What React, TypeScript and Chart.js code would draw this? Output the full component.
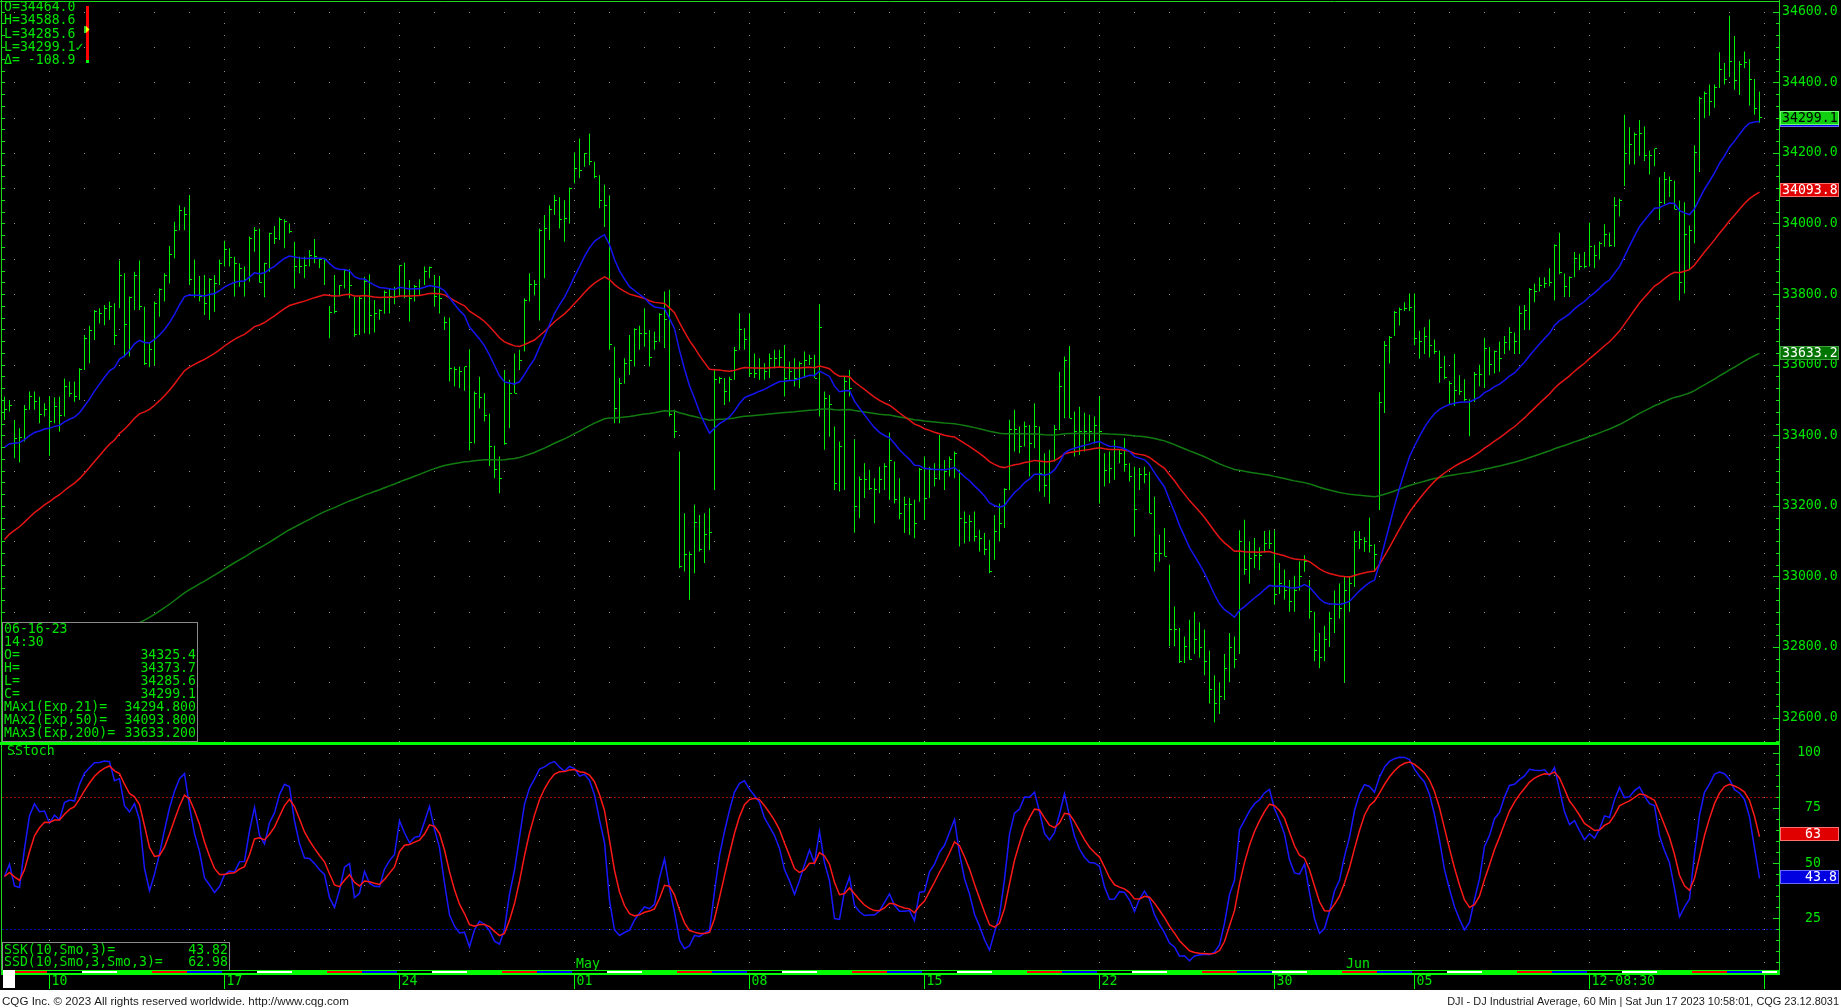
import React, { useEffect, useRef } from 'react';
import { Chart, registerables } from 'chart.js';
Chart.register(...registerables);

// ---------------- DATA ----------------
const sessionDates = [
  '2023-04-05', '2023-04-06', '2023-04-10', '2023-04-11', '2023-04-12', '2023-04-13', '2023-04-14',
  '2023-04-17', '2023-04-18', '2023-04-19', '2023-04-20', '2023-04-21', '2023-04-24', '2023-04-25',
  '2023-04-26', '2023-04-27', '2023-04-28', '2023-05-01', '2023-05-02', '2023-05-03', '2023-05-04',
  '2023-05-05', '2023-05-08', '2023-05-09', '2023-05-10', '2023-05-11', '2023-05-12', '2023-05-15',
  '2023-05-16', '2023-05-17', '2023-05-18', '2023-05-19', '2023-05-22', '2023-05-23', '2023-05-24',
  '2023-05-25', '2023-05-26', '2023-05-30', '2023-05-31', '2023-06-01', '2023-06-02', '2023-06-05',
  '2023-06-06', '2023-06-07', '2023-06-08', '2023-06-09', '2023-06-12', '2023-06-13', '2023-06-14',
  '2023-06-15', '2023-06-16', '2023-06-20',
];
const weekTickLabels = ['10', '17', '24', '01', '08', '15', '22', '30', '05', '12-08:30'];
const monthLabels = ['May', 'Jun'];

const highs = [
  33509, 33500, 33443, 33420, 33486, 33524, 33524, 33509, 33491, 33511,
  33508, 33509, 33561, 33552, 33552, 33590, 33684, 33710, 33755, 33760,
  33769, 33779, 33774, 33895, 33859, 33793, 33863, 33895, 33764, 33661,
  33779, 33816, 33859, 33936, 34005, 34052, 34046, 34081, 33898, 33851,
  33854, 33845, 33854, 33898, 33951, 33930, 33906, 33887, 33878, 33963,
  33989, 33986, 33889, 33974, 33993, 34017, 34012, 34000, 33948, 33906,
  33906, 33925, 33956, 33901, 33898, 33766, 33854, 33826, 33870, 33870,
  33793, 33793, 33849, 33856, 33783, 33757, 33810, 33816, 33821, 33882,
  33889, 33840, 33826, 33842, 33878, 33878, 33854, 33851, 33736, 33734,
  33594, 33594, 33594, 33644, 33524, 33566, 33519, 33462, 33370, 33340,
  33585, 33557, 33632, 33642, 33788, 33859, 33840, 33986, 34024, 34052,
  34081, 34074, 34066, 34102, 34201, 34241, 34200, 34255, 34175, 34137,
  34110, 34080, 33651, 33562, 33618, 33684, 33703, 33710, 33760, 33698,
  33694, 33746, 33807, 33812, 33472, 33354, 33179, 33071, 33203, 33174,
  33179, 33193, 33585, 33566, 33562, 33566, 33651, 33746, 33703, 33746,
  33632, 33618, 33604, 33632, 33642, 33642, 33656, 33609, 33618, 33609,
  33637, 33628, 33628, 33772, 33524, 33514, 33425, 33382, 33566, 33585,
  33389, 33283, 33321, 33302, 33278, 33311, 33321, 33408, 33326, 33278,
  33226, 33222, 33217, 33307, 33340, 33311, 33321, 33401, 33330, 33340,
  33354, 33302, 33184, 33174, 33184, 33132, 33123, 33104, 33174, 33207,
  33250, 33444, 33472, 33425, 33439, 33429, 33491, 33425, 33349, 33359,
  33429, 33580, 33623, 33653, 33467, 33481, 33464, 33458, 33453, 33511,
  33349, 33354, 33387, 33359, 33392, 33321, 33311, 33307, 33311, 33297,
  33226, 33118, 33137, 33033, 32915, 32854, 32830, 32877, 32900, 32870,
  32850, 32790, 32720, 32700, 32780, 32840, 32830, 33131, 33161, 33100,
  33109, 33083, 33129, 33131, 33131, 33038, 33020, 32990, 33002, 33043,
  33060, 32990, 32900, 32840, 32860, 32900, 32960, 32980, 33000, 33000,
  33129, 33129, 33111, 33167, 33091, 33522, 33667, 33681, 33752, 33762,
  33777, 33802, 33802, 33696, 33706, 33728, 33671, 33640, 33625, 33554,
  33630, 33570, 33559, 33502, 33579, 33600, 33676, 33650, 33640, 33666,
  33681, 33706, 33691, 33767, 33769, 33817, 33830, 33848, 33848, 33873,
  33941, 33974, 33858, 33850, 33919, 33914, 33919, 34002, 33939, 33949,
  33998, 33974, 34075, 34070, 34308, 34273, 34258, 34293, 34275, 34207,
  34212, 34131, 34146, 34133, 34121, 34065, 34060, 33994, 34222, 34359,
  34374, 34394, 34394, 34485, 34455, 34588.6, 34531, 34460, 34487, 34465,
  34409, 34373.7,
];
const lows = [
  33443, 33467, 33335, 33323, 33382, 33472, 33472, 33434, 33453, 33342,
  33434, 33410, 33453, 33509, 33495, 33500, 33585, 33604, 33670, 33717,
  33712, 33727, 33656, 33760, 33621, 33623, 33755, 33755, 33599, 33593,
  33599, 33736, 33779, 33830, 33901, 33981, 33981, 33826, 33790, 33779,
  33741, 33727, 33750, 33826, 33878, 33878, 33793, 33821, 33793, 33835,
  33920, 33832, 33791, 33863, 33942, 33953, 33930, 33972, 33816, 33859,
  33845, 33878, 33887, 33873, 33826, 33675, 33745, 33793, 33816, 33788,
  33679, 33684, 33689, 33686, 33691, 33727, 33744, 33745, 33771, 33793,
  33788, 33722, 33779, 33797, 33826, 33845, 33764, 33745, 33698, 33552,
  33538, 33533, 33526, 33357, 33377, 33476, 33439, 33313, 33278, 33236,
  33373, 33420, 33519, 33585, 33637, 33779, 33797, 33725, 33845, 33953,
  34024, 33986, 33948, 34000, 34114, 34128, 34161, 34165, 34128, 34043,
  33990, 33642, 33434, 33434, 33547, 33571, 33595, 33642, 33651, 33595,
  33642, 33665, 33647, 33453, 33392, 33023, 33014, 32934, 33009, 33071,
  33038, 33075, 33245, 33547, 33486, 33495, 33557, 33642, 33642, 33566,
  33562, 33557, 33557, 33562, 33590, 33595, 33510, 33557, 33538, 33533,
  33562, 33599, 33562, 33453, 33359, 33396, 33245, 33241, 33245, 33510,
  33124, 33165, 33222, 33245, 33151, 33236, 33245, 33217, 33207, 33162,
  33123, 33118, 33108, 33212, 33160, 33222, 33255, 33274, 33245, 33283,
  33278, 33085, 33094, 33099, 33099, 33071, 33061, 33009, 33047, 33099,
  33137, 33245, 33354, 33349, 33368, 33283, 33363, 33241, 33226, 33207,
  33326, 33415, 33448, 33448, 33340, 33344, 33354, 33382, 33377, 33207,
  33255, 33264, 33274, 33321, 33297, 33269, 33113, 33245, 33264, 33179,
  33014, 33042, 33057, 32802, 32802, 32755, 32755, 32764, 32780, 32770,
  32720, 32640, 32586, 32610, 32650, 32700, 32740, 32780, 33005, 32980,
  33023, 33018, 33068, 33078, 32920, 32950, 32935, 32900, 32900, 32960,
  33013, 32880, 32760, 32740, 32760, 32800, 32840, 32880, 32700, 32900,
  32970, 33078, 33070, 33068, 33013, 33188, 33463, 33603, 33681, 33711,
  33752, 33752, 33655, 33617, 33630, 33620, 33630, 33549, 33559, 33488,
  33483, 33514, 33496, 33397, 33494, 33539, 33534, 33570, 33575, 33580,
  33630, 33640, 33630, 33630, 33698, 33698, 33777, 33807, 33817, 33822,
  33782, 33856, 33792, 33792, 33848, 33868, 33873, 33878, 33873, 33898,
  33934, 33934, 33934, 34020, 34106, 34167, 34167, 34192, 34177, 34139,
  34162, 34010, 34055, 34075, 34040, 33782, 33802, 33868, 33944, 34146,
  34298, 34305, 34328, 34384, 34394, 34415, 34379, 34364, 34440, 34334,
  34308, 34285.6,
];
const closes = [
  33472, 33483, 33391, 33394, 33474, 33511, 33495, 33458, 33472, 33439,
  33481, 33455, 33538, 33519, 33511, 33587, 33675, 33698, 33750, 33745,
  33760, 33764, 33684, 33854, 33715, 33791, 33854, 33764, 33604, 33644,
  33774, 33813, 33854, 33911, 33981, 34038, 34026, 33840, 33795, 33793,
  33774, 33842, 33830, 33887, 33925, 33904, 33887, 33873, 33842, 33958,
  33981, 33832, 33887, 33972, 33958, 34010, 34005, 33977, 33878, 33878,
  33880, 33908, 33906, 33898, 33897, 33747, 33750, 33824, 33868, 33824,
  33686, 33788, 33835, 33738, 33745, 33753, 33804, 33793, 33793, 33880,
  33793, 33788, 33821, 33816, 33863, 33875, 33793, 33788, 33720, 33590,
  33587, 33580, 33594, 33379, 33519, 33508, 33455, 33368, 33302, 33278,
  33377, 33519, 33519, 33611, 33783, 33826, 33826, 33981, 33986, 34040,
  34066, 34010, 34015, 34099, 34156, 34151, 34199, 34175, 34133, 34066,
  34051, 33656, 33477, 33547, 33604, 33611, 33700, 33687, 33687, 33621,
  33665, 33741, 33727, 33458, 33410, 33028, 33061, 33061, 33153, 33075,
  33118, 33125, 33559, 33562, 33524, 33559, 33640, 33700, 33672, 33574,
  33576, 33590, 33580, 33618, 33618, 33621, 33562, 33580, 33562, 33604,
  33613, 33618, 33562, 33706, 33505, 33486, 33264, 33368, 33552, 33533,
  33198, 33274, 33274, 33250, 33245, 33274, 33311, 33328, 33217, 33179,
  33203, 33203, 33149, 33302, 33222, 33302, 33278, 33302, 33297, 33330,
  33347, 33165, 33153, 33156, 33113, 33108, 33075, 33014, 33127, 33151,
  33245, 33415, 33415, 33368, 33425, 33377, 33425, 33292, 33259, 33326,
  33415, 33538, 33613, 33448, 33410, 33410, 33410, 33410, 33429, 33410,
  33300, 33307, 33359, 33349, 33316, 33283, 33189, 33288, 33288, 33179,
  33066, 33066, 33057, 32849, 32849, 32759, 32802, 32764, 32820, 32800,
  32760, 32680, 32640, 32660, 32740, 32800, 32765, 33100, 33020, 33050,
  33060, 33058, 33094, 33093, 32950, 32980, 32960, 32930, 32960, 33000,
  33042, 32900, 32790, 32770, 32820, 32880, 32920, 32908, 32960, 32980,
  33100, 33104, 33100, 33089, 33061, 33492, 33655, 33678, 33749, 33757,
  33759, 33762, 33675, 33666, 33681, 33655, 33637, 33593, 33563, 33546,
  33526, 33524, 33500, 33495, 33572, 33573, 33647, 33600, 33637, 33617,
  33663, 33690, 33665, 33746, 33754, 33812, 33807, 33825, 33829, 33834,
  33939, 33860, 33822, 33848, 33900, 33878, 33877, 33934, 33908, 33944,
  33969, 33937, 34050, 34066, 34197, 34224, 34252, 34254, 34194, 34194,
  34212, 34060, 34126, 34121, 34040, 33832, 33969, 33979, 34202, 34354,
  34369, 34346, 34384, 34435, 34408, 34460, 34404, 34450, 34455, 34409,
  34325.4, 34299.1,
];

// moving averages: periods and their values just before the first visible bar
const emaPeriods = [21, 50, 200];
const emaSeeds = [33355, 33090, 32630];
const emaShown = [34294.8, 34093.8, 33633.2];

const priceTicks = [34600, 34400, 34200, 34000, 33800, 33600, 33400, 33200, 33000, 32800, 32600];
const stochTicks = [100, 75, 50, 25];
const stochShown = [43.82, 62.98];
const stochShownText = ['43.8', '63'];

const headerLabels = ['O=', 'H=', 'L=', 'L=', '\u0394='];
const headerValues = ['34464.0', '34588.6', '34285.6', '34299.1\u2713', ' -108.9'];
const infoDate = '06-16-23';
const infoTime = '14:30';
const infoLabels = ['O=', 'H=', 'L=', 'C=', 'MAx1(Exp,21)=', 'MAx2(Exp,50)=', 'MAx3(Exp,200)='];
const infoValues = ['34325.4', '34373.7', '34285.6', '34299.1', '34294.800', '34093.800', '33633.200'];
const stochInfoLabels = ['SSK(10,Smo,3)=', 'SSD(10,Smo,3,Smo,3)='];
const stochInfoValues = ['43.82', '62.98'];
const footerLeft = 'CQG Inc. \u00a9 2023 All rights reserved worldwide. http://www.cqg.com';
const footerRight = 'DJI - DJ Industrial Average, 60 Min | Sat Jun 17 2023 10:58:01, CQG 23.12.8031';

// ---------------- LAYOUT / STYLE ----------------
const W = 1841;
const H = 1008;
const MAIN_H = 742;
const ST_H = H - MAIN_H;
const PLOT_R = 1779;
const BAR_GREEN = '#00f000';
const TEXT_GREEN = '#00e400';
const FRAME_GREEN = '#18dc18';
const SEP_GREEN = '#00ff00';
const DOT = '#8e8e8e';
const MONO = "13.2px 'DejaVu Sans Mono', monospace";
const BARS_PER_SESSION = 7;
const FIRST_SESSION_BAR = -5;

const sessionStart = (k: number) => FIRST_SESSION_BAR + BARS_PER_SESSION * k;
const weekdays = sessionDates.map((d) => new Date(d + 'T12:00:00Z').getUTCDay());
const months = sessionDates.map((d) => d.slice(5, 7));
const weekStarts = sessionDates.map((_, k) => k).filter((k) => k > 0 && weekdays[k] < weekdays[k - 1]);
const monthStarts = sessionDates.map((_, k) => k).filter((k) => k > 0 && months[k] !== months[k - 1]);
const weekSet = new Set(weekStarts);
const dayColors: Record<number, string> = { 1: '#000000', 2: '#ffffff', 3: SEP_GREEN, 4: '#ff0000', 5: '#0000ff' };

function ema(vals: number[], period: number, seed: number) {
  const a = 2 / (period + 1);
  let e = seed;
  return vals.map((v) => (e = e + a * (v - e)));
}

function smoothedStoch(h: number[], l: number[], c: number[], n: number, s: number) {
  const k: number[] = [];
  const d: number[] = [];
  let sn = NaN, sd = NaN, sk = NaN;
  for (let i = 0; i < c.length; i++) {
    let hh = -Infinity, ll = Infinity;
    for (let j = Math.max(0, i - n + 1); j <= i; j++) {
      hh = Math.max(hh, h[j]);
      ll = Math.min(ll, l[j]);
    }
    const num = c[i] - ll;
    const den = hh - ll;
    sn = isNaN(sn) ? num : (sn * (s - 1) + num) / s;
    sd = isNaN(sd) ? den : (sd * (s - 1) + den) / s;
    const kv = sd > 0 ? (100 * sn) / sd : 50;
    sk = isNaN(sk) ? kv : (sk * (s - 1) + kv) / s;
    k.push(kv);
    d.push(sk);
  }
  return { k, d };
}

function txt(ctx: CanvasRenderingContext2D, s: string, x: number, y: number, color: string, align: CanvasTextAlign = 'left', font = MONO) {
  ctx.font = font;
  ctx.fillStyle = color;
  ctx.textAlign = align;
  ctx.textBaseline = 'middle';
  ctx.fillText(s, x, y);
}

function hline(ctx: CanvasRenderingContext2D, x0: number, x1: number, y: number) {
  ctx.beginPath();
  ctx.moveTo(x0, y);
  ctx.lineTo(x1, y);
  ctx.stroke();
}
function vline(ctx: CanvasRenderingContext2D, x: number, y0: number, y1: number) {
  ctx.beginPath();
  ctx.moveTo(x, y0);
  ctx.lineTo(x, y1);
  ctx.stroke();
}

function valueBox(ctx: CanvasRenderingContext2D, yc: number, fill: string, border: string) {
  const top = Math.round(yc - 7);
  ctx.fillStyle = fill;
  ctx.fillRect(PLOT_R + 1, top, 59, 14);
  ctx.strokeStyle = border;
  ctx.lineWidth = 1;
  ctx.strokeRect(PLOT_R + 1.5, top + 0.5, 58, 13);
}

const emas = emaPeriods.map((p, j) => ema(closes, p, emaSeeds[j]));
const stoch = smoothedStoch(highs, lows, closes, 10, 3);
const idx = closes.map((_, i) => i);

const X_MIN = -0.5;
const X_MAX = X_MIN + (PLOT_R - 2) / 5;

// ---------------- MAIN PANEL PLUGIN ----------------
const mainPlugin = {
  id: 'cqgMain',
  beforeDatasetsDraw(chart: any) {
    const { ctx, chartArea: a, scales } = chart;
    const xs = scales.x, ys = scales.y;
    ctx.save();
    ctx.fillStyle = DOT;
    for (let k = 1; k < sessionDates.length; k++) {
      const px = Math.floor(xs.getPixelForValue(sessionStart(k)));
      if (px < a.left || px > a.right) continue;
      const step = weekSet.has(k) ? 100 / 3 : 100;
      for (let n = Math.ceil(ys.min / step); n * step <= ys.max; n++) {
        ctx.fillRect(px, Math.round(ys.getPixelForValue(n * step)), 1, 1);
      }
    }
    ctx.restore();
  },
  afterDatasetDraw(chart: any, args: any) {
    if (args.index !== 0) return;
    const { ctx, chartArea: a, scales } = chart;
    const xs = scales.x, ys = scales.y;
    ctx.save();
    ctx.beginPath();
    ctx.rect(a.left, a.top, a.right - a.left, a.bottom - a.top);
    ctx.clip();
    ctx.fillStyle = BAR_GREEN;
    closes.forEach((c, i) => {
      const px = Math.floor(xs.getPixelForValue(i));
      const py = Math.floor(ys.getPixelForValue(c));
      ctx.fillRect(px + 1, py, 2, 1);
    });
    ctx.restore();
  },
  afterDraw(chart: any) {
    const { ctx, scales } = chart;
    const ys = scales.y;
    ctx.save();
    ctx.lineWidth = 1;
    ctx.strokeStyle = FRAME_GREEN;
    hline(ctx, 0, PLOT_R + 0.5, 1.5);
    vline(ctx, 1.5, 0, MAIN_H);
    vline(ctx, PLOT_R + 0.5, 0, MAIN_H);

    // axis ticks (right and left edges)
    const minor = 200 / 6;
    for (let n = Math.ceil((34600 - ys.max) / minor); 34600 - n * minor >= ys.min; n++) {
      const p = 34600 - n * minor;
      const y = Math.round(ys.getPixelForValue(p)) + 0.5;
      const len = n % 6 === 0 ? 6 : 3;
      hline(ctx, PLOT_R - len, PLOT_R, y);
      hline(ctx, 2, 5, y);
    }
    priceTicks.forEach((p) => txt(ctx, p.toFixed(1), 1782, ys.getPixelForValue(p), TEXT_GREEN));

    // value boxes
    valueBox(ctx, ys.getPixelForValue(emaShown[0]) + 0.5, '#0000e0', '#6a6aff');
    valueBox(ctx, ys.getPixelForValue(closes[closes.length - 1]), '#10d010', '#70ff70');
    txt(ctx, closes[closes.length - 1].toFixed(1), 1782, ys.getPixelForValue(closes[closes.length - 1]) + 0.5, '#000000');
    valueBox(ctx, ys.getPixelForValue(emaShown[1]), '#e00000', '#ff7070');
    txt(ctx, emaShown[1].toFixed(1), 1782, ys.getPixelForValue(emaShown[1]) + 0.5, '#ffffff');
    valueBox(ctx, ys.getPixelForValue(emaShown[2]), '#007400', '#40a040');
    txt(ctx, emaShown[2].toFixed(1), 1782, ys.getPixelForValue(emaShown[2]) + 0.5, '#ffffff');

    // info box (bottom-left)
    ctx.fillStyle = '#000000';
    ctx.fillRect(2, 622, 196, 120);
    ctx.strokeStyle = '#8a8a8a';
    ctx.strokeRect(2.5, 622.5, 195, 119);
    const lineY = (k: number) => 630 + 12.9 * k;
    txt(ctx, infoDate, 4, lineY(0), TEXT_GREEN);
    txt(ctx, infoTime, 4, lineY(1), TEXT_GREEN);
    infoLabels.forEach((l, k) => {
      txt(ctx, l, 4, lineY(k + 2), TEXT_GREEN);
      txt(ctx, infoValues[k], 196, lineY(k + 2), TEXT_GREEN, 'right');
    });

    // header (top-left)
    headerLabels.forEach((l, k) => txt(ctx, l + headerValues[k], 4, 7.7 + 13.25 * k, TEXT_GREEN));
    ctx.fillStyle = '#ff0000';
    ctx.fillRect(86, 6, 3, 57);
    ctx.fillStyle = '#00ff00';
    ctx.fillRect(86, 60, 3, 3);
    ctx.fillStyle = '#30d030';
    ctx.fillRect(84, 26, 2, 7);
    ctx.fillStyle = '#ffff00';
    ctx.beginPath();
    ctx.moveTo(86, 26);
    ctx.lineTo(89.5, 29.5);
    ctx.lineTo(86, 33);
    ctx.closePath();
    ctx.fill();
    ctx.restore();
  },
};

// ---------------- STOCHASTIC PANEL PLUGIN ----------------
const stochPlugin = {
  id: 'cqgStoch',
  beforeDatasetsDraw(chart: any) {
    const { ctx, chartArea: a, scales } = chart;
    const xs = scales.x, ys = scales.y;
    ctx.save();
    ctx.fillStyle = DOT;
    for (let k = 1; k < sessionDates.length; k++) {
      const px = Math.floor(xs.getPixelForValue(sessionStart(k)));
      if (px < a.left || px > a.right) continue;
      const step = weekSet.has(k) ? 5 : 10;
      for (let v = step; v <= 100; v += step) ctx.fillRect(px, Math.round(ys.getPixelForValue(v)), 1, 1);
    }
    ctx.lineWidth = 1;
    ctx.setLineDash([2, 2]);
    ctx.strokeStyle = '#a00000';
    hline(ctx, a.left, a.right, Math.round(ys.getPixelForValue(80)) + 0.5);
    ctx.strokeStyle = '#0000a8';
    hline(ctx, a.left, a.right, Math.round(ys.getPixelForValue(20)) + 0.5);
    ctx.restore();
  },
  afterDraw(chart: any) {
    const { ctx, scales } = chart;
    const xs = scales.x, ys = scales.y;
    ctx.save();
    // separator + frame
    ctx.fillStyle = SEP_GREEN;
    ctx.fillRect(0, 0, PLOT_R + 1, 3);
    ctx.strokeStyle = FRAME_GREEN;
    ctx.lineWidth = 1;
    vline(ctx, 1.5, 3, 233);
    vline(ctx, PLOT_R + 0.5, 0, 233);
    txt(ctx, 'SStoch', 7, 10, TEXT_GREEN);

    // axis
    for (let v = 0; v <= 100; v += 5) {
      const y = Math.round(ys.getPixelForValue(v)) + 0.5;
      const len = v % 25 === 0 ? 6 : 3;
      hline(ctx, PLOT_R - len, PLOT_R, y);
    }
    stochTicks.forEach((v) => txt(ctx, String(v), 1821, ys.getPixelForValue(v), TEXT_GREEN, 'right'));

    // value boxes (SSD red, SSK blue)
    const drawDec = (s: string, y: number) => {
      const parts = s.split('.');
      txt(ctx, parts[0], 1821, y, '#ffffff', 'right');
      if (parts[1]) txt(ctx, '.' + parts[1], 1821, y, '#ffffff', 'left');
    };
    const yD = ys.getPixelForValue(stochShown[1]);
    valueBox(ctx, yD, '#e00000', '#ff7070');
    drawDec(stochShownText[1], yD + 0.5);
    const yK = ys.getPixelForValue(stochShown[0]);
    valueBox(ctx, yK, '#0000e0', '#6a6aff');
    drawDec(stochShownText[0], yK + 0.5);

    // stoch info box
    ctx.fillStyle = '#000000';
    ctx.fillRect(2, 200, 228, 29);
    ctx.strokeStyle = '#8a8a8a';
    ctx.strokeRect(2.5, 200.5, 227, 28);
    stochInfoLabels.forEach((l, k) => {
      txt(ctx, l, 4, 208.7 + 12 * k, TEXT_GREEN);
      txt(ctx, stochInfoValues[k], 228, 208.7 + 12 * k, TEXT_GREEN, 'right');
    });

    // day-of-week strip
    ctx.fillStyle = SEP_GREEN;
    ctx.fillRect(2, 228, PLOT_R - 2, 5);
    sessionDates.forEach((_, k) => {
      const x0 = Math.max(2, Math.round(xs.getPixelForValue(sessionStart(k)) - 2.5));
      const x1 = Math.min(PLOT_R - 2, Math.round(xs.getPixelForValue(sessionStart(k) + BARS_PER_SESSION) - 2.5));
      if (x1 <= x0) return;
      ctx.fillStyle = dayColors[weekdays[k]] || SEP_GREEN;
      ctx.fillRect(x0, 229, x1 - x0, 2);
    });
    ctx.fillStyle = '#ffffff';
    ctx.fillRect(3, 228, 12, 18);

    // x axis: week ticks
    ctx.strokeStyle = SEP_GREEN;
    weekStarts.forEach((k, j) => {
      const px = Math.floor(xs.getPixelForValue(sessionStart(k))) + 0.5;
      if (px > PLOT_R) return;
      vline(ctx, px, 233, 247);
      if (weekTickLabels[j]) txt(ctx, weekTickLabels[j], px + 2, 240, TEXT_GREEN);
    });
    monthStarts.forEach((k, j) => {
      const px = Math.floor(xs.getPixelForValue(sessionStart(k)));
      txt(ctx, monthLabels[j], px + 2, 223, TEXT_GREEN);
    });

    // footer
    ctx.fillStyle = '#ffffff';
    ctx.fillRect(0, 248, W, ST_H - 248);
    const fit = (s: string, target: number) => {
      ctx.font = "12px 'Liberation Sans', Arial, sans-serif";
      const w = ctx.measureText(s).width;
      return `${(12 * target / w).toFixed(2)}px 'Liberation Sans', Arial, sans-serif`;
    };
    ctx.fillStyle = '#1a1a1a';
    ctx.textBaseline = 'alphabetic';
    ctx.font = fit(footerLeft, 347);
    ctx.textAlign = 'left';
    ctx.fillText(footerLeft, 2, 262.5);
    ctx.font = fit(footerRight, 392);
    ctx.textAlign = 'right';
    ctx.fillText(footerRight, 1839, 262.5);
    ctx.restore();
  },
};

const commonOpts = {
  responsive: false,
  animation: false,
  devicePixelRatio: 1,
  events: [],
  plugins: { legend: { display: false }, tooltip: { enabled: false } },
};

export default function App() {
  const mainRef = useRef<HTMLCanvasElement>(null);
  const stochRef = useRef<HTMLCanvasElement>(null);

  useEffect(() => {
    const lineDs = (vals: number[], color: string, order: number) => ({
      type: 'line',
      data: vals.map((v, i) => ({ x: i, y: v })),
      borderColor: color,
      borderWidth: 1.5,
      pointRadius: 0,
      fill: false,
      tension: 0,
      order,
    });
    const main = new Chart(mainRef.current as HTMLCanvasElement, {
      type: 'bar',
      data: {
        datasets: [
          {
            type: 'bar',
            data: idx.map((i) => ({ x: i, y: [lows[i], highs[i]] })),
            backgroundColor: BAR_GREEN,
            borderWidth: 0,
            barThickness: 1,
            inflateAmount: 0,
            grouped: false,
            order: 10,
          },
          lineDs(emas[2], '#117a11', 3),
          lineDs(emas[1], '#e41414', 2),
          lineDs(emas[0], '#1414f0', 1),
        ],
      } as any,
      options: {
        ...commonOpts,
        layout: { padding: { left: 2, right: W - PLOT_R, top: 2, bottom: 0 }, autoPadding: false },
        scales: {
          x: { type: 'linear', min: X_MIN, max: X_MAX, display: false, offset: false },
          y: { type: 'linear', min: 32531, max: 34627.5, display: false },
        },
      } as any,
      plugins: [mainPlugin],
    });

    const st = new Chart(stochRef.current as HTMLCanvasElement, {
      type: 'line',
      data: {
        datasets: [lineDs(stoch.k, '#1818ff', 2), lineDs(stoch.d, '#ff1818', 1)],
      } as any,
      options: {
        ...commonOpts,
        layout: { padding: { left: 2, right: W - PLOT_R, top: 3, bottom: ST_H - 230 }, autoPadding: false },
        scales: {
          x: { type: 'linear', min: X_MIN, max: X_MAX, display: false, offset: false },
          y: { type: 'linear', min: 0.68, max: 103.49, display: false },
        },
      } as any,
      plugins: [stochPlugin],
    });
    return () => {
      main.destroy();
      st.destroy();
    };
  }, []);

  return (
    <div style={{ position: 'fixed', left: 0, top: 0, width: W, height: H, background: '#000', overflow: 'hidden' }}>
      <canvas ref={mainRef} width={W} height={MAIN_H} style={{ position: 'absolute', left: 0, top: 0, width: W, height: MAIN_H }} />
      <canvas ref={stochRef} width={W} height={ST_H} style={{ position: 'absolute', left: 0, top: MAIN_H, width: W, height: ST_H }} />
    </div>
  );
}
